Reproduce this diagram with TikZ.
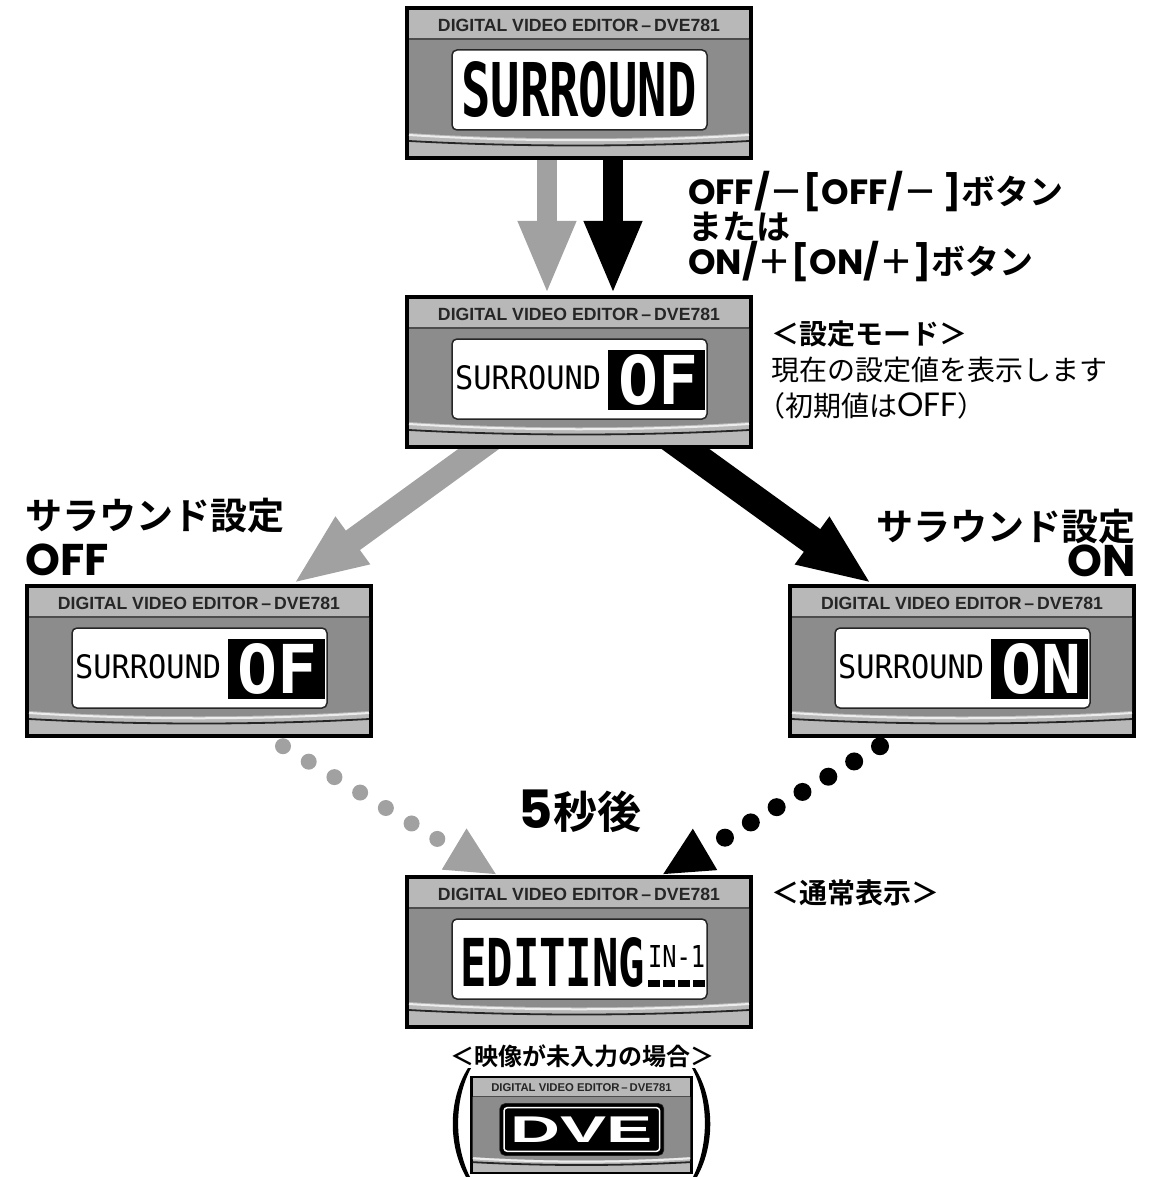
\documentclass[tikz,border=0pt]{standalone}
\usepackage{fontspec}
\usepackage{graphicx}
\usetikzlibrary{arrows.meta}

\newfontfamily\jp{Noto Sans CJK JP}[BoldFont={Noto Sans CJK JP Bold}]
\newfontfamily\geo{Poppins}[Scale=1.2]
\newfontfamily\geokey{Poppins}[Scale=1.03]
\newfontfamily\lcdfont{DejaVu Sans Mono}
\newfontfamily\platefont{Liberation Sans}

\definecolor{panellight}{gray}{0.72}
\definecolor{panelmid}{gray}{0.55}
\definecolor{shade}{gray}{0.63}

\pgfdeclarelayer{back}
\pgfsetlayers{back,main}

\newcommand{\lcdbox}[3]{\resizebox{#1pt}{#2pt}{\lcdfont\bfseries #3}}
\newcommand{\lcdthin}[3]{\resizebox{#1pt}{#2pt}{\lcdfont #3}}
\newcommand{\setview}[1]{%
  \node[lcdtxt, anchor=west] (-word) at (-124,6) {\lcdthin{146}{24}{SURROUND}};
  \fill (29,-22) rectangle (126,38);
  \node[lcdtxt, text=white] (-value) at (79,8) {\lcdbox{80}{50}{#1}};}

\tikzset{
  case/.style={fill=black, inner sep=0, minimum width=348pt, minimum height=154pt},
  lcd/.style={fill=white, draw=black!85, line width=1.5pt, rounded corners=5pt},
  lcdtxt/.style={inner sep=0},
  plate/.style={text=black!85, inner sep=0},
  fatgray/.style={draw=shade, line width=20pt, -{Triangle[length=74pt, width=53pt]}},
  fatblack/.style={draw=black, line width=20pt, -{Triangle[length=74pt, width=53pt]}},
  dotgray/.style={draw=shade, line width=16pt, line cap=round, dash pattern=on 0pt off 30pt, -{Triangle[length=50pt, width=44pt]}},
  dotblack/.style={draw=black, line width=18pt, line cap=round, dash pattern=on 0pt off 30pt, -{Triangle[length=50pt, width=44pt]}},
  caption/.style={font=\jp\bfseries, inner sep=0, align=left},
  dve/.pic={
    \node[case] (-case) at (0,0) {};
    \fill[panellight] (-170,-73) rectangle (170,73);
    \fill[panelmid] (-170,-44) -- (170,-44) -- (170,50) .. controls (60,57) and (-60,57) .. (-170,50) -- cycle;
    \draw[black!70, line width=1.2pt] (-170,-44) -- (170,-44);
    \draw[gray!15, line width=2pt] (-170,52) .. controls (-60,59) and (60,59) .. (170,52);
    \draw[black!85, line width=1.8pt] (-170,58) .. controls (-60,64) and (60,64) .. (170,58);
    \node[plate] (-plate) at (0,-58) {\resizebox{282pt}{!}{\platefont\bfseries DIGITAL VIDEO EDITOR\,–\,DVE781}};
    \draw[lcd] (-127,-33) rectangle (128,47);
    #1
  }
}

\begin{document}
\begin{tikzpicture}[x=1pt, y=-1pt]
\useasboundingbox (0,0) rectangle (1159,1177);

\pic (top) at (579,83) {dve={\node[lcdtxt] (-word) at (0,7) {\lcdbox{235}{55}{SURROUND}};}};
\pic (mid) at (579,372) {dve=\setview{OF}};
\pic (left) at (199,661) {dve=\setview{OF}};
\pic (right) at (962,661) {dve=\setview{ON}};
\pic (bot) at (579,952) {dve={
  \node[lcdtxt, anchor=west] (-word) at (-119,10) {\lcdbox{185}{49}{EDITING}};
  \node[lcdtxt, anchor=west] (-input) at (69,4) {\lcdthin{57}{22}{IN-1}};
  \foreach \k in {0,...,3} \fill (69+\k*15,28) rectangle ++(12,7);
}};
\pic[scale=0.64, transform shape] (small) at (581.5,1125) {dve={
  \fill[rounded corners=5pt] (-127,-33) rectangle (128,47);
  \draw[white, line width=1.5pt, rounded corners=3pt] (-121,-27) rectangle (122,41);
  \node[lcdtxt, text=white] (-logo) at (0,8) {\resizebox{222pt}{40pt}{\platefont\bfseries DVE}};
}};

\begin{pgfonlayer}{back}
\draw[fatgray] ([xshift=-32]top-case.south) -- ([xshift=-32]mid-case.north);
\draw[fatblack] ([xshift=34]top-case.south) -- ([xshift=34]mid-case.north);
\draw[fatgray, line width=24pt] ([xshift=-80, yshift=15]mid-case.south) -- ([xshift=94]left-case.north);
\draw[fatblack, line width=28pt] ([xshift=86, yshift=15]mid-case.south) -- ([xshift=-90]right-case.north);
\end{pgfonlayer}

\coordinate (offgo) at ([xshift=84, yshift=-8]left-case.south);
\coordinate (ongo) at ([xshift=-82, yshift=-8]right-case.south);
\draw[dotgray] (offgo) -- ([xshift=-82]bot-case.north);
\draw[dotblack] (ongo) -- ([xshift=83]bot-case.north);

\node[caption, font={\jp\bfseries\fontsize{34}{35}\selectfont\lineskiplimit=-100pt}, anchor=north west] (keys) at (688,171)
  {{\geokey OFF/}－{\geokey [OFF/}－\,{\geokey ]}ボタン\\または\\{\geokey ON/}＋{\geokey [ON/}＋{\geokey ]}ボタン};
\node[caption, font={\jp\fontsize{28}{36}\selectfont\lineskiplimit=-100pt}, anchor=north west] (mode) at (771,321)
  {{\bfseries ＜設定モード＞}\\現在の設定値を表示します\\\hspace*{-14pt}（初期値は{\geo OFF}）};
\node[caption, font={\jp\bfseries\fontsize{37}{46}\selectfont}, anchor=north west] (offlabel) at (25,498)
  {サラウンド設定\\{\geo OFF}};
\node[caption, font={\jp\bfseries\fontsize{37}{35}\selectfont}, align=right, anchor=north east] (onlabel) at (1136,509)
  {サラウンド設定\\{\geo ON}};
\node[caption, font={\jp\bfseries\fontsize{44}{44}\selectfont}] (wait) at (580,811) {{\geo 5}秒後};
\node[caption, font={\jp\bfseries\fontsize{28}{28}\selectfont}, anchor=north west] (normal) at (771,879) {＜通常表示＞};
\node[caption, font={\jp\bfseries\fontsize{24}{24}\selectfont}] (nosignal) at (582,1056) {＜映像が未入力の場合＞};

\fill (468,1068) .. controls (448,1100) and (448,1145) .. (466,1177) -- (470,1177)
  .. controls (454,1145) and (454,1100) .. (471,1068) -- cycle;
\fill (695,1068) .. controls (715,1100) and (715,1145) .. (697,1177) -- (693,1177)
  .. controls (709,1145) and (709,1100) .. (692,1068) -- cycle;
\end{tikzpicture}
\end{document}
